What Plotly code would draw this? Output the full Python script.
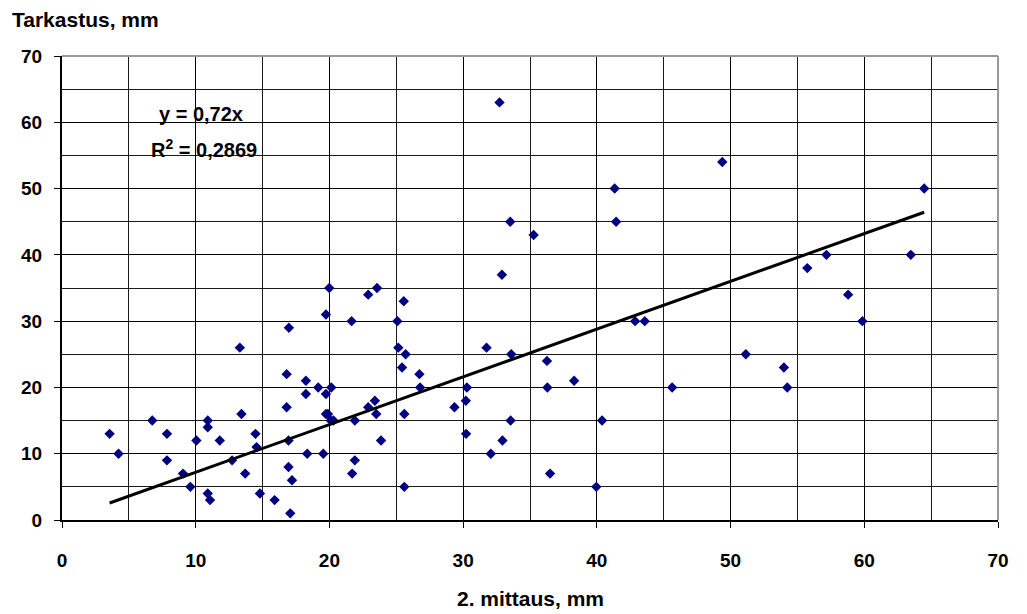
import plotly.graph_objects as go

mittaus2 = [3.56, 4.23, 6.75, 7.85, 7.85, 9.05, 9.6, 10.05, 10.9, 10.9, 11.8, 10.9, 11.07,
            12.72, 13.3, 13.42, 13.7, 14.47, 14.55, 14.8, 15.9, 16.97, 16.8, 16.8, 16.94,
            16.94, 17.2, 17.07, 18.24, 18.24, 18.34, 19.16, 19.54, 19.74, 19.74, 19.99,
            19.74, 19.89, 20.14, 20.1, 20.3, 21.66, 21.9, 21.9, 21.7, 22.9, 23.56, 22.9,
            23.4, 23.5, 23.86, 25.08, 25.56, 25.15, 25.7, 25.43, 25.6, 25.6, 26.73, 26.78,
            29.35, 30.28, 30.2, 30.22, 31.75, 32.07, 32.72, 32.9, 33.52, 35.27, 33.6, 32.94,
            33.55, 36.27, 36.3, 36.5, 38.3, 39.96, 40.39, 41.33, 41.44, 42.86, 43.58, 45.63,
            49.38, 64.48, 57.17, 63.48, 55.74, 58.79, 59.86, 51.14, 53.99, 54.24]
tarkastus = [13, 10, 15, 13, 9, 7, 5, 12, 15, 14, 12, 4, 3,
             9, 26, 16, 7, 13, 11, 4, 3, 29, 22, 17, 12,
             8, 6, 1, 21, 19, 10, 20, 10, 31, 19, 35,
             16, 16, 20, 15, 15, 30, 15, 9, 7, 34, 35, 17,
             18, 16, 12, 30, 33, 26, 25, 23, 16, 5, 22, 20,
             17, 20, 18, 13, 26, 10, 63, 37, 45, 43, 25, 12,
             15, 24, 20, 7, 21, 5, 15, 50, 45, 30, 30, 20,
             54, 50, 40, 40, 38, 34, 30, 25, 23, 20]

SLOPE = 0.72
R2 = "0,2869"
x_ticks = [0, 10, 20, 30, 40, 50, 60, 70]
y_ticks = [0, 10, 20, 30, 40, 50, 60, 70]

FONT = "Arial, 'Liberation Sans', sans-serif"

trend_x = [min(mittaus2), max(mittaus2)]
trend_y = [SLOPE * v for v in trend_x]

fig = go.Figure()
fig.add_trace(go.Scatter(
    x=mittaus2, y=tarkastus, mode="markers",
    marker=dict(symbol="diamond", size=8, color="#000080", line=dict(width=0)),
    showlegend=False, hoverinfo="x+y"))
fig.add_trace(go.Scatter(
    x=trend_x, y=trend_y, mode="lines",
    line=dict(color="black", width=3), showlegend=False, hoverinfo="skip"))

axis_common = dict(
    range=[0, 70], tickmode="array",
    showgrid=True, gridcolor="black", gridwidth=1,
    minor=dict(dtick=5, showgrid=True, gridcolor="#1a1a1a", gridwidth=1, ticks=""),
    ticks="outside", ticklen=6, tickcolor="black", tickwidth=1,
    showline=True, linecolor="black", linewidth=2,
    zeroline=False, tickfont=dict(family=FONT, size=19, color="black"),
    fixedrange=True,
)

fig.update_xaxes(tickvals=x_ticks, ticktext=[f"<b>{v}</b>" for v in x_ticks],
                 ticklabelstandoff=16, **axis_common)
fig.update_yaxes(tickvals=y_ticks, ticktext=[f"<b>{v}</b>" for v in y_ticks],
                 ticklabelstandoff=8, **axis_common)

# gray frame on top and right of plot area
fig.add_shape(type="line", xref="x domain", yref="y domain", x0=0, x1=1, y0=1, y1=1,
              line=dict(color="#999999", width=2), layer="above")
fig.add_shape(type="line", xref="x domain", yref="y domain", x0=1, x1=1, y0=0, y1=1,
              line=dict(color="#999999", width=2), layer="above")

tf = dict(family=FONT, size=21, color="black")
fig.add_annotation(text="<b>Tarkastus, mm</b>", xref="paper", yref="paper", x=-52/936, y=1 + 36/464,
                   xanchor="left", yanchor="middle", showarrow=False, font=tf)
fig.add_annotation(text="<b>2. mittaus, mm</b>", xref="paper", yref="paper", x=(530-62)/936, y=-78/464,
                   xanchor="center", yanchor="middle", showarrow=False, font=tf)
fig.add_annotation(text="<b>" + f"y = {SLOPE:.2f}x".replace(".", ",") + "</b>", xref="x", yref="y",
                   x=10.4, y=61.3, xanchor="center", yanchor="middle", showarrow=False,
                   font=dict(family=FONT, size=20, color="black"))
fig.add_annotation(text=f"<b>R<sup>2</sup> = {R2}</b>", xref="x", yref="y", x=10.6, y=56.0,
                   xanchor="center", yanchor="middle", showarrow=False,
                   font=dict(family=FONT, size=20, color="black"))

fig.update_layout(
    width=1027, height=614,
    margin=dict(l=62, r=29, t=56, b=94),
    paper_bgcolor="white", plot_bgcolor="white",
    font=dict(family=FONT, color="black"),
)

fig.write_html("out.html")
